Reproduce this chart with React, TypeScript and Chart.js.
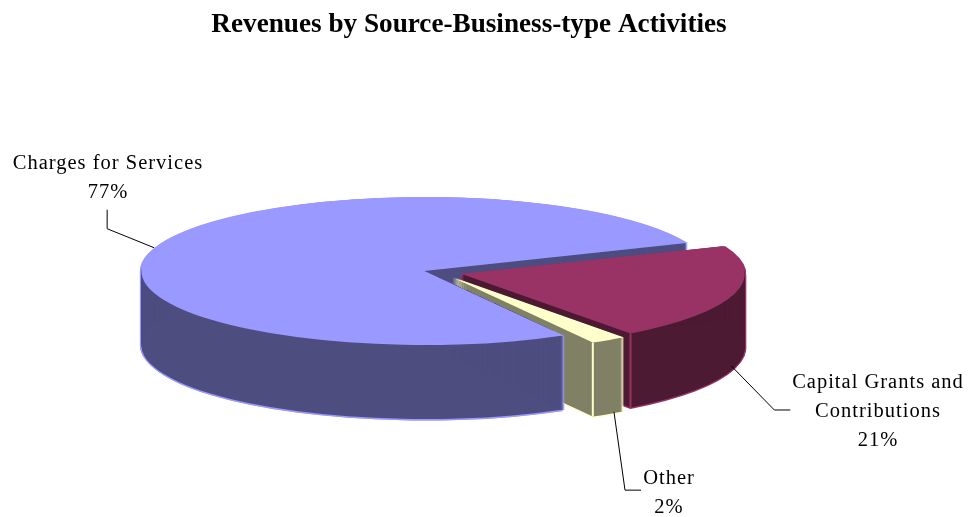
import React, { useEffect, useRef } from "react";
import { Chart, registerables } from "chart.js";

Chart.register(...registerables);

// Revenue shares by source
const sources = ["Charges for Services", "Capital Grants and Contributions", "Other"];
const shares = [77, 21, 2];
const topColors = ["#9999FF", "#993366", "#FFFFCC"];
const wallColors = ["#4D4D80", "#4D1A33", "#808066"];
const sliceOffsets = [46, 63, 71];

const chartTitle = "Revenues by Source-Business-type Activities";
const labelFont = "20.5px 'Liberation Serif'";

// Text blocks beside the pie: wrapped name lines, centre x and first baseline
const labelLines = [["Charges for Services"], ["Capital Grants and", "Contributions"], ["Other"]];
const labelCentres = [108, 878, 669];
const labelBaselines = [169, 388, 484];
const labelLeading = 29;

// Leader lines: nudge off the slice's mid-angle, then elbows relative to that start
const leaderNudges = [[-3, 1], [-3, -2], [6, -2]];
const leaderElbows = [
  [[-47, -19], [-47, -38]],
  [[43, 44], [59, 44]],
  [[11, 78], [27, 78]],
];

// Projection of the flat pie onto an ellipse with an extruded wall
const centreX = 440;
const centreY = 272.5;
const radiusX = 283;
const radiusY = 74;
const wallDepth = 74;
const edge = 1.5;

const pie3d = {
  id: "pie3d",
  beforeDatasetsDraw(chart: any) {
    const ctx = chart.ctx;
    const arcs = chart.getDatasetMeta(0).data;
    const sx = radiusX / arcs[0].outerRadius;
    const sy = radiusY / arcs[0].outerRadius;

    const shift = (arc: any) => {
      const mid = (arc.startAngle + arc.endAngle) / 2;
      const offset = (arc.options.offset || 0) / 4;
      return { x: centreX + Math.cos(mid) * offset * sx, y: centreY + Math.sin(mid) * offset * sy };
    };

    const paint = (arc: any, fill: string, px: number, py: number) => {
      const ghost = Object.create(arc);
      ghost.options = { ...arc.options, backgroundColor: fill, borderWidth: 0, offset: 0 };
      const c = shift(arc);
      ctx.save();
      ctx.translate(c.x + px, c.y + py);
      ctx.scale(sx, sy);
      ctx.translate(-arc.x, -arc.y);
      ghost.draw(ctx);
      ctx.restore();
    };

    const rimPoint = (arc: any, angle: number) => {
      const c = shift(arc);
      return {
        x: c.x + Math.cos(angle) * arc.outerRadius * sx,
        y: c.y + Math.sin(angle) * arc.outerRadius * sy,
      };
    };

    const extrude = (i: number) => {
      const arc = arcs[i];
      for (let d = 0; d <= wallDepth; d++) {
        paint(arc, topColors[i], -edge, d);
        paint(arc, topColors[i], edge, d);
      }
      paint(arc, topColors[i], 0, wallDepth + edge);
      for (let d = 1; d <= wallDepth; d++) paint(arc, wallColors[i], 0, d);
    };

    const wallLine = (i: number, angle: number) => {
      const p = rimPoint(arcs[i], angle);
      ctx.save();
      ctx.strokeStyle = topColors[i];
      ctx.lineWidth = 2;
      ctx.beginPath();
      ctx.moveTo(p.x, p.y);
      ctx.lineTo(p.x, p.y + wallDepth);
      ctx.stroke();
      ctx.restore();
    };

    extrude(0);
    extrude(1);
    wallLine(1, arcs[1].endAngle);
    extrude(2);
    wallLine(2, arcs[2].endAngle);

    // The near part of the large slice's wall stands in front of the small slice
    const apex = shift(arcs[0]);
    const rimEnd = rimPoint(arcs[0], arcs[0].startAngle);
    ctx.save();
    ctx.beginPath();
    ctx.moveTo(apex.x, apex.y);
    ctx.lineTo(rimEnd.x, rimEnd.y);
    ctx.lineTo(rimEnd.x + edge + 1, rimEnd.y);
    ctx.lineTo(rimEnd.x + edge + 1, chart.height);
    ctx.lineTo(0, chart.height);
    ctx.lineTo(0, apex.y);
    ctx.closePath();
    ctx.clip();
    extrude(0);
    ctx.restore();

    arcs.forEach((arc: any, i: number) => paint(arc, topColors[i], 0, 0));

    // Leader lines and captions
    ctx.save();
    ctx.font = labelFont;
    ctx.fillStyle = "#000";
    ctx.textAlign = "center";
    ctx.textBaseline = "alphabetic";
    ctx.letterSpacing = "1px";
    arcs.forEach((arc: any, i: number) => {
      const mid = (arc.startAngle + arc.endAngle) / 2;
      const rim = rimPoint(arc, mid);
      const start = {
        x: rim.x + leaderNudges[i][0],
        y: rim.y + (Math.sin(mid) > 0 ? wallDepth : 0) + leaderNudges[i][1],
      };
      ctx.strokeStyle = "#000";
      ctx.lineWidth = 1;
      ctx.beginPath();
      ctx.moveTo(start.x, start.y);
      leaderElbows[i].forEach(([dx, dy]) => ctx.lineTo(start.x + dx, start.y + dy));
      ctx.stroke();

      const lines = [...labelLines[i], `${shares[i]}%`];
      lines.forEach((line, n) => {
        ctx.fillText(line, labelCentres[i], labelBaselines[i] + n * labelLeading);
      });
    });
    ctx.restore();
    return false;
  },
};

export default function App() {
  const canvasRef = useRef<HTMLCanvasElement>(null);

  useEffect(() => {
    const chart = new Chart(canvasRef.current as HTMLCanvasElement, {
      type: "pie",
      data: {
        labels: sources,
        datasets: [
          {
            data: shares,
            backgroundColor: topColors,
            borderWidth: 0,
            offset: sliceOffsets,
          },
        ],
      },
      options: {
        responsive: false,
        animation: false,
        rotation: 150.6,
        layout: { padding: { right: 37 } },
        plugins: {
          legend: { display: false },
          tooltip: { enabled: false },
          title: {
            display: true,
            text: chartTitle,
            color: "#000",
            font: { family: "'Liberation Serif'", size: 27.2, weight: "bold" },
            padding: { top: 9, bottom: 10 },
          },
        },
      },
      plugins: [pie3d],
    } as any);
    return () => chart.destroy();
  }, []);

  return (
    <div style={{ position: "absolute", left: 0, top: 0, width: 975, height: 517, background: "#fff" }}>
      <canvas ref={canvasRef} width={975} height={517} style={{ display: "block" }} />
    </div>
  );
}
